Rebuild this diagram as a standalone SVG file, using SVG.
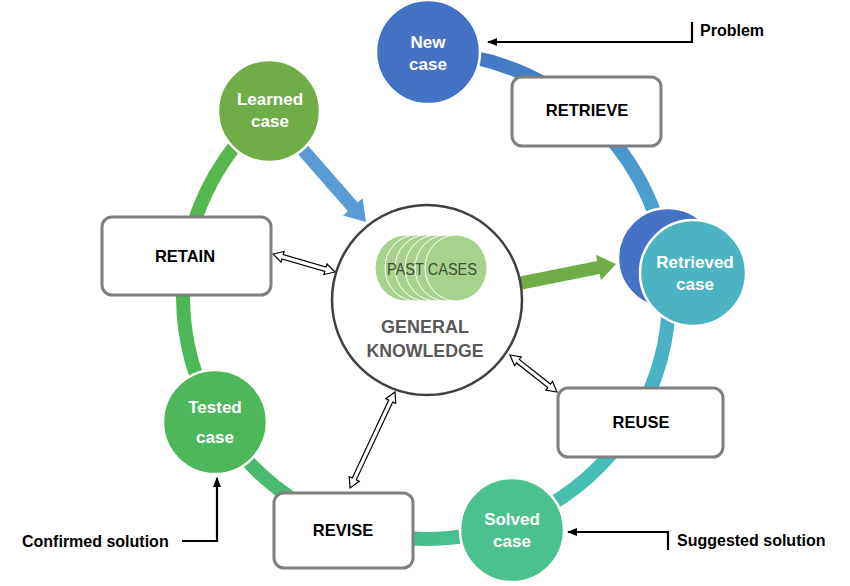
<svg xmlns="http://www.w3.org/2000/svg" width="850" height="586" viewBox="0 0 850 586">
<style>
.ring{fill:none;stroke-width:14;stroke-linecap:round}
.box{fill:#fff;stroke:#7f7f7f;stroke-width:3}
.bl{font-family:"Liberation Sans",Arial,sans-serif;font-weight:bold;font-size:16.5px;fill:#000;text-anchor:middle}
.nl{font-family:"Liberation Sans",Arial,sans-serif;font-weight:bold;font-size:17px;fill:#fff;text-anchor:middle}
.side{font-family:"Liberation Sans",Arial,sans-serif;font-weight:bold;font-size:16px;fill:#000}
.node{stroke:#fff;stroke-width:2.5}
.dbl{fill:#fff;stroke:#000;stroke-width:1.2;stroke-linejoin:miter}
.ptr{fill:none;stroke:#000;stroke-width:2.2;marker-end:url(#ah)}
.pc{fill:#a9d18e;stroke:#fff;stroke-width:1}
.gk{font-family:"Liberation Sans",Arial,sans-serif;font-weight:bold;font-size:18px;fill:#595959;text-anchor:middle}
</style>
<defs>
<marker id="ah" viewBox="0 0 10 10" refX="9" refY="5" markerWidth="10" markerHeight="10" markerUnits="userSpaceOnUse" orient="auto">
<path d="M0,1 L10,5 L0,9 Z" fill="#000"/>
</marker>
<linearGradient id="g1" gradientUnits="userSpaceOnUse" x1="434.5" y1="53.1" x2="547.5" y2="85.6"><stop offset="0" stop-color="#4472c4"/><stop offset="1" stop-color="#4682c8"/></linearGradient>
<linearGradient id="g2" gradientUnits="userSpaceOnUse" x1="547.5" y1="85.6" x2="636.4" y2="174.5"><stop offset="0" stop-color="#4682c8"/><stop offset="1" stop-color="#4a9bd0"/></linearGradient>
<linearGradient id="g3" gradientUnits="userSpaceOnUse" x1="636.4" y1="174.5" x2="669" y2="296"><stop offset="0" stop-color="#4a9bd0"/><stop offset="1" stop-color="#4aaec8"/></linearGradient>
<linearGradient id="g4" gradientUnits="userSpaceOnUse" x1="669" y1="296" x2="636.4" y2="417.5"><stop offset="0" stop-color="#4aaec8"/><stop offset="1" stop-color="#47b8c2"/></linearGradient>
<linearGradient id="g5" gradientUnits="userSpaceOnUse" x1="636.4" y1="417.5" x2="547.5" y2="506.4"><stop offset="0" stop-color="#47b8c2"/><stop offset="1" stop-color="#46c1a8"/></linearGradient>
<linearGradient id="g6" gradientUnits="userSpaceOnUse" x1="547.5" y1="506.4" x2="426" y2="539"><stop offset="0" stop-color="#46c1a8"/><stop offset="1" stop-color="#48c08c"/></linearGradient>
<linearGradient id="g7" gradientUnits="userSpaceOnUse" x1="426" y1="539" x2="304.5" y2="506.4"><stop offset="0" stop-color="#48c08c"/><stop offset="1" stop-color="#47bb78"/></linearGradient>
<linearGradient id="g8" gradientUnits="userSpaceOnUse" x1="304.5" y1="506.4" x2="215.6" y2="417.5"><stop offset="0" stop-color="#47bb78"/><stop offset="1" stop-color="#4bb862"/></linearGradient>
<linearGradient id="g9" gradientUnits="userSpaceOnUse" x1="215.6" y1="417.5" x2="183" y2="296"><stop offset="0" stop-color="#4bb862"/><stop offset="1" stop-color="#4db852"/></linearGradient>
<linearGradient id="g10" gradientUnits="userSpaceOnUse" x1="183" y1="296" x2="215.6" y2="174.5"><stop offset="0" stop-color="#4db852"/><stop offset="1" stop-color="#54b84c"/></linearGradient>
<linearGradient id="g11" gradientUnits="userSpaceOnUse" x1="215.6" y1="174.5" x2="269.8" y2="109.9"><stop offset="0" stop-color="#54b84c"/><stop offset="1" stop-color="#5cb64a"/></linearGradient>
</defs>
<rect width="850" height="586" fill="#fff"/>
<g id="connectors">
<g id="cycle-ring">
<path class="ring" stroke="url(#g1)" d="M434.5,53.1 A243,243 0 0 1 547.5,85.6"/>
<path class="ring" stroke="url(#g2)" d="M547.5,85.6 A243,243 0 0 1 636.4,174.5"/>
<path class="ring" stroke="url(#g3)" d="M636.4,174.5 A243,243 0 0 1 669,296"/>
<path class="ring" stroke="url(#g4)" d="M669,296 A243,243 0 0 1 636.4,417.5"/>
<path class="ring" stroke="url(#g5)" d="M636.4,417.5 A243,243 0 0 1 547.5,506.4"/>
<path class="ring" stroke="url(#g6)" d="M547.5,506.4 A243,243 0 0 1 426,539"/>
<path class="ring" stroke="url(#g7)" d="M426,539 A243,243 0 0 1 304.5,506.4"/>
<path class="ring" stroke="url(#g8)" d="M304.5,506.4 A243,243 0 0 1 215.6,417.5"/>
<path class="ring" stroke="url(#g9)" d="M215.6,417.5 A243,243 0 0 1 183,296"/>
<path class="ring" stroke="url(#g10)" d="M183,296 A243,243 0 0 1 215.6,174.5"/>
<path class="ring" stroke="url(#g11)" d="M215.6,174.5 A243,243 0 0 1 269.8,109.9"/>
</g>
<polygon id="learned-to-knowledge" fill="#5b9bd5" points="305.5,142.8 357.7,202.6 362.6,198.3 366,222 343,215.5 347.9,211.2 295.7,151.4"/>
<polygon id="knowledge-to-retrieved" fill="#70ad47" points="519.7,276.6 597.1,261.1 595.9,254.8 616,264 600.9,280.2 599.7,273.9 522.3,289.4"/>
<path class="dbl" transform="translate(273,254) rotate(16.2)" d="M0,0 L10,-5.5 L10,-2.2 L54.6,-2.2 L54.6,-5.5 L64.6,0 L54.6,5.5 L54.6,2.2 L10,2.2 L10,5.5 Z"/>
<path class="dbl" transform="translate(510,355) rotate(38.2)" d="M0,0 L10,-5.5 L10,-2.2 L49.8,-2.2 L49.8,-5.5 L59.8,0 L49.8,5.5 L49.8,2.2 L10,2.2 L10,5.5 Z"/>
<path class="dbl" transform="translate(395,392) rotate(115.1)" d="M0,0 L10,-5.5 L10,-2.2 L96,-2.2 L96,-5.5 L106,0 L96,5.5 L96,2.2 L10,2.2 L10,5.5 Z"/>
<path class="ptr" d="M692,22 L692,42 L488,42"/>
<path class="ptr" d="M182,541 L217,541 L217,478"/>
<path class="ptr" d="M668,550 L668,532 L568,532"/>
</g>
<g id="knowledge">
<circle cx="427" cy="300" r="95" fill="#fff" stroke="#404040" stroke-width="2.5"/>
<ellipse class="pc" cx="406" cy="268" rx="31" ry="33"/>
<ellipse class="pc" cx="416" cy="268" rx="31" ry="33"/>
<ellipse class="pc" cx="426" cy="268" rx="31" ry="33"/>
<ellipse class="pc" cx="436" cy="268" rx="31" ry="33"/>
<ellipse class="pc" cx="446" cy="268" rx="31" ry="33"/>
<ellipse class="pc" cx="456" cy="268" rx="31" ry="33"/>
<text x="432" y="275" font-family="Liberation Sans,Arial,sans-serif" font-size="16" fill="#3f4f35" text-anchor="middle" textLength="90" lengthAdjust="spacingAndGlyphs">PAST CASES</text>
<text class="gk" x="425" y="333">GENERAL</text>
<text class="gk" x="425" y="357" textLength="117" lengthAdjust="spacingAndGlyphs">KNOWLEDGE</text>
</g>
<g id="new-case">
<circle class="node" cx="428" cy="52" r="52" fill="#4472c4"/>
<text class="nl" x="428" y="48">New</text>
<text class="nl" x="428" y="70">case</text>
</g>
<g id="retrieve">
<rect class="box" x="512" y="77" width="149" height="69" rx="10"/>
<text class="bl" x="587" y="116">RETRIEVE</text>
</g>
<g id="retrieved-case">
<circle class="node" cx="668" cy="258" r="50" fill="#4472c4"/>
<circle class="node" cx="693" cy="273" r="53" fill="#4bb3c4"/>
<text class="nl" x="695" y="268">Retrieved</text>
<text class="nl" x="695" y="290">case</text>
</g>
<g id="reuse">
<rect class="box" x="558" y="388" width="165" height="69" rx="10"/>
<text class="bl" x="641" y="428">REUSE</text>
</g>
<g id="solved-case">
<circle class="node" cx="512" cy="530" r="52" fill="#4cc08f"/>
<text class="nl" x="512" y="525">Solved</text>
<text class="nl" x="512" y="547">case</text>
</g>
<g id="revise">
<rect class="box" x="274" y="493" width="139" height="75" rx="10"/>
<text class="bl" x="343" y="536">REVISE</text>
</g>
<g id="tested-case">
<circle class="node" cx="215" cy="422" r="52" fill="#4cb85a"/>
<text class="nl" x="215" y="413">Tested</text>
<text class="nl" x="215" y="443">case</text>
</g>
<g id="retain">
<rect class="box" x="102" y="217" width="169" height="78" rx="10"/>
<text class="bl" x="185" y="262">RETAIN</text>
</g>
<g id="learned-case">
<circle class="node" cx="269" cy="111" r="51" fill="#70ad47"/>
<text class="nl" x="270" y="105">Learned</text>
<text class="nl" x="270" y="127">case</text>
</g>
<g id="labels">
<text class="side" x="700" y="36">Problem</text>
<text class="side" x="22" y="547">Confirmed solution</text>
<text class="side" x="677" y="546">Suggested solution</text>
</g>
</svg>
